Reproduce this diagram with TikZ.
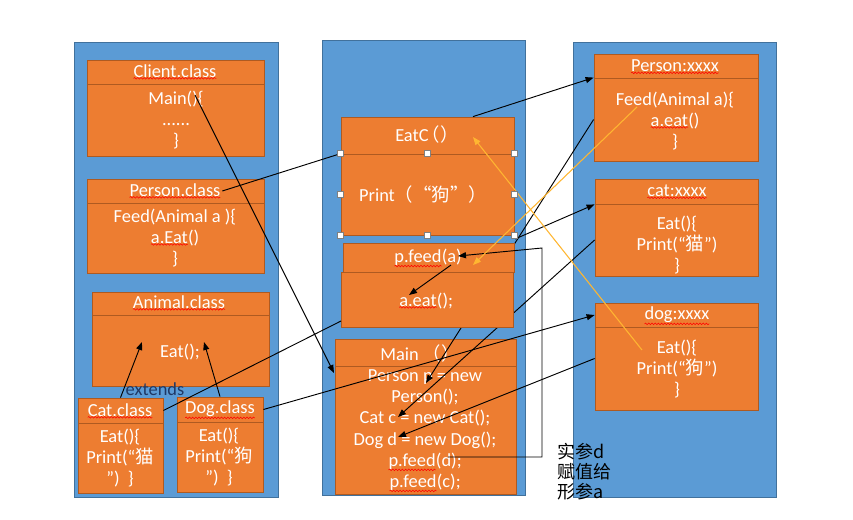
\documentclass[tikz,border=0pt]{standalone}
\usepackage{fontspec}
\setmainfont{Carlito}
\newfontfamily\cjk{Noto Sans CJK SC}
\usetikzlibrary{fit,calc,arrows.meta,decorations.pathmorphing}
\definecolor{panelblue}{HTML}{5B9BD5}
\definecolor{paneledge}{HTML}{41719C}
\definecolor{boxorange}{HTML}{ED7D31}
\definecolor{boxedge}{HTML}{AE5A21}
\definecolor{passline}{HTML}{FFB631}
\definecolor{navy}{HTML}{203864}
\newcommand\spell[1]{\tikz[baseline=(sp.base)]{\node[inner sep=0pt,outer sep=0pt] (sp) {#1};
  \draw[red,line width=0.4pt,decorate,decoration={snake,amplitude=0.6pt,segment length=2.4pt}] ([yshift=-0.6pt]sp.south west) -- ([yshift=-0.6pt]sp.south east);}}
\begin{document}
\begin{tikzpicture}[x=0.75pt,y=-0.75pt,
  font={\fontsize{13.8}{15.8}\selectfont},
  panel/.style={draw=paneledge,fill=panelblue,inner sep=0pt,line width=0.6pt},
  obox/.style={draw=boxedge,fill=boxorange,inner sep=0pt,line width=0.6pt},
  txt/.style={text=white,align=center,inner sep=1pt},
  conn/.style={line width=0.7pt,-{Triangle[length=6pt,width=4.5pt]}},
  wire/.style={line width=0.7pt},
  pass/.style={passline,line width=0.8pt,-{Triangle[length=6pt,width=4.5pt]}},
  handle/.style={draw=gray,fill=white,minimum size=4.5pt,inner sep=0pt}]
\useasboundingbox (0,0) rectangle (853,519);
% three memory areas
\node[panel,fit={(74,42)(278,497)}] (leftpanel) {};
\node[panel,fit={(322,40)(525,495)}] (midpanel) {};
\node[panel,fit={(573,42)(776,497)}] (rightpanel) {};
% main frame
\node[obox,fit={(335,339)(516,366)}] (mainhead) {};
\node[obox,fit={(335,366)(516,494)}] (mainbody) {};
\node[txt] (mainname) at (420,353) {Main {\cjk（）}};
\node[txt] (maincode) at (425,431) {Person p = new\\Person();\\Cat c = new Cat();\\Dog d = new Dog();\\\spell{p.feed}(d);\\\spell{p.feed}(c);};
% objects
\node[obox,fit={(594,54)(758,78)}] (pobjhead) {};
\node[obox,fit={(594,78)(758,161)}] (pobjbody) {};
\node[txt] (pobjname) at (675,67) {\spell{Person:xxxx}};
\node[txt] (pobjcode) at (675,121) {Feed(Animal a)\{\\\spell{a.eat}()\\\}};
\node[obox,fit={(595,179)(758,204)}] (cobjhead) {};
\node[obox,fit={(595,204)(758,276)}] (cobjbody) {};
\node[txt] (cobjname) at (677,192) {\spell{cat:xxxx}};
\node[txt] (cobjcode) at (677,245) {Eat()\{\\Print(“{\cjk 猫}”)\\\}};
\node[obox,fit={(595,303)(758,327)}] (dobjhead) {};
\node[obox,fit={(595,327)(758,410)}] (dobjbody) {};
\node[txt] (dobjname) at (677,316) {\spell{dog:xxxx}};
\node[txt] (dobjcode) at (677,369) {Eat()\{\\Print(“{\cjk 狗}”)\\\}};
% classes
\node[obox,fit={(87,60)(264,84)}] (clienthead) {};
\node[obox,fit={(87,84)(264,156)}] (clientbody) {};
\node[txt] (clientname) at (175,72) {\spell{Client.class}};
\node[txt] (clientcode) at (176,120) {Main()\{\\......\\\}};
\node[obox,fit={(87,179)(264,203)}] (personhead) {};
\node[obox,fit={(87,203)(264,273)}] (personbody) {};
\node[txt] (personname) at (175,191) {\spell{Person.class}};
\node[txt] (personcode) at (175,238) {Feed(Animal a )\{\\\spell{a.Eat}()\\\}};
\node[obox,fit={(92,292)(269,315)}] (animalhead) {};
\node[obox,fit={(92,315)(269,386)}] (animalbody) {};
\node[txt] (animalname) at (179,303) {\spell{Animal.class}};
\node[txt] (animalcode) at (180,352) {Eat();};
\node[obox,fit={(78,398)(163,423)}] (cathead) {};
\node[obox,fit={(78,423)(163,493)}] (catbody) {};
\node[txt] (catname) at (120,411) {\spell{Cat.class}};
\node[txt] (catcode) at (120,458) {Eat()\{\\Print(“{\cjk 猫}\\”)\ \ \}};
\node[obox,fit={(177,397)(263,422)}] (doghead) {};
\node[obox,fit={(177,422)(263,492)}] (dogbody) {};
\node[txt] (dogname) at (220,410) {\spell{Dog.class}};
\node[txt] (dogcode) at (219,457) {Eat()\{\\Print(“{\cjk 狗}\\”)\ \ \}};
% end points
\coordinate (personp) at (426,383);
\coordinate (catc) at (398,417);
\coordinate (dogd) at (398,437);
\coordinate (mainpar) at (195,95);
\coordinate (mainin) at (334,373);
\coordinate (aeatin) at (341,321);
\coordinate (eatcorner) at (515,239);
\coordinate (feedd) at (448,457);
\coordinate (feeda) at (458,256);
\coordinate (feedout) at (451,265);
\coordinate (eatcall) at (409,295);
\coordinate (feedarg) at (637,107);
\coordinate (argin) at (473,265);
\coordinate (dogeat) at (642,350);
\coordinate (eatin) at (473,137);
\coordinate (catup) at (142,342);
\coordinate (dogup) at (204,342);
% these two run behind the method frame
\draw[conn] (pobjbody.west) -- (personp);
\draw[conn] (cobjbody.west) -- (catc);
% method frame
\node[obox,fit={(341,117)(514,154)}] (eathead) {};
\node[obox,fit={(341,154)(514,235)}] (eatbody) {};
\node[obox,fit={(343,243)(514,272)}] (pfeed) {};
\node[obox,fit={(341,272)(513,327)}] (aeat) {};
\node[txt] (eatname) at (427,135) {EatC\kern-5pt{\cjk（）}};
\node[txt] (eatcode) at (423,195) {Print{\cjk（“狗”）}};
\node[txt] (pfeedcode) at (428,258) {\spell{p.feed}(a)};
\node[txt] (aeatcode) at (426,301) {\spell{a.eat}();};
% references
\draw[conn] (mainpar) -- (mainin);
\draw[wire] (personname.east) -- (eatbody.north west);
\draw[conn] (eathead.north -| 473,0) -- (pobjbody.north west);
\draw[wire] (cathead.east) -- (aeatin);
\draw[conn] (doghead.east) -- (dobjhead.west);
\draw[conn] (eatcorner) -- (cobjhead.south west);
\draw[conn] ($(dobjbody.west)+(0,-10)$) -- (dogd);
\draw[conn] (feedd) -- (542,457) -- (542,248) -- (feeda);
\draw[conn] (feedout) -- (eatcall);
\draw[pass] (feedarg) -- (argin);
\draw[pass] (dogeat) -- (eatin);
\draw[conn] (cathead.north) -- (catup);
\draw[conn] (doghead.north) -- (dogup);
\node[text=navy,inner sep=0pt] (extends) at (155,389) {extends};
\foreach \a in {north west,north,north east,east,south east,south,south west,west}
  \node[handle] (h-\a) at (eatbody.\a) {};
\node[align=left,anchor=west,inner sep=0pt,font={\cjk\fontsize{13.5}{15}\selectfont}] (argnote) at (557,472) {实参d\\赋值给\\形参a};
\end{tikzpicture}
\end{document}
